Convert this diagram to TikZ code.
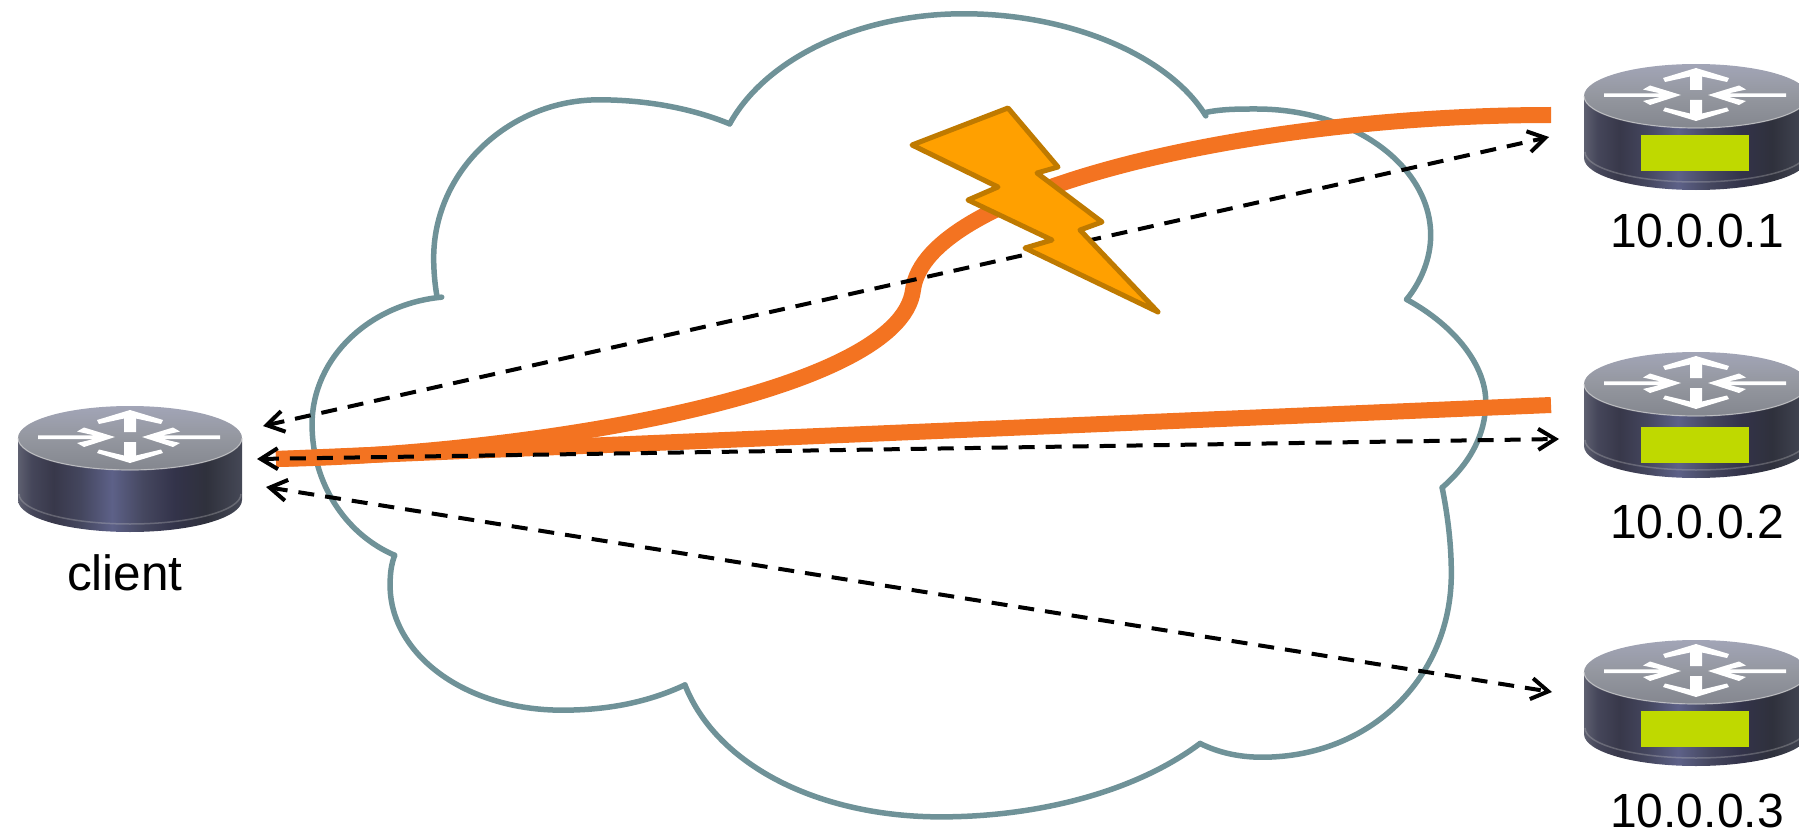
\documentclass[tikz,border=0pt]{standalone}
\usepackage{fontspec}
\setmainfont{Liberation Sans}
\usetikzlibrary{arrows.meta}
\definecolor{cloudc}{HTML}{6F9298}
\definecolor{orangeline}{HTML}{F37321}
\definecolor{boltfill}{HTML}{FFA000}
\definecolor{boltline}{HTML}{BF7A00}
\definecolor{lime}{HTML}{BFD900}
\definecolor{rsa}{HTML}{5E6070}
\definecolor{rsb}{HTML}{45465A}
\definecolor{rsc}{HTML}{38384A}
\definecolor{rsd}{HTML}{44465E}
\definecolor{rse}{HTML}{5D6188}
\definecolor{rsf}{HTML}{45475F}
\definecolor{rsg}{HTML}{33334A}
\definecolor{rsh}{HTML}{2F313C}
\definecolor{rsi}{HTML}{454856}
\definecolor{rta}{HTML}{84878F}
\definecolor{rtb}{HTML}{94979F}
\definecolor{rtc}{HTML}{A2A5B7}
\pgfdeclarehorizontalshading{routerside}{100bp}{
 color(0bp)=(rsa);
 color(25bp)=(rsa);
 color(28bp)=(rsb);
 color(33bp)=(rsc);
 color(39bp)=(rsd);
 color(46bp)=(rse);
 color(53bp)=(rsf);
 color(60bp)=(rsg);
 color(67bp)=(rsh);
 color(75bp)=(rsi);
 color(100bp)=(rsi)}
\pgfdeclareverticalshading{routertop}{100bp}{
 color(0bp)=(rta);
 color(25bp)=(rta);
 color(50bp)=(rtb);
 color(75bp)=(rtc);
 color(100bp)=(rtc)}
\tikzset{
 cloudarc/.style={draw=cloudc,line width=5.5pt,line cap=round},
 fibre/.style={draw=orangeline,line width=16pt},
 probe/.style={draw=black,line width=4pt,dash pattern=on 16pt off 11pt,
   {Straight Barb[length=17pt,width=21pt,line width=4pt]}-{Straight Barb[length=17pt,width=21pt,line width=4pt]}},
 bolt/.style={draw=boltline,fill=boltfill,line width=5pt,line join=round},
 routerlabel/.style={font=\fontsize{48pt}{48pt}\selectfont,text=black,inner sep=0pt,anchor=base},
 clientlabelstyle/.style={font=\fontsize{49.5pt}{49.5pt}\selectfont,text=black,inner sep=0pt,anchor=base},
 limebox/.style={fill=lime,draw=none,minimum width=108pt,minimum height=36pt,inner sep=0pt},
 routermark/.style={fill=white,draw=none}
}
\newcommand{\routerbody}[2]{%
 \begin{scope}[shift={(#1,#2)}]
  \shade[shading=routerside]
    (0,32) -- (0,94) arc[start angle=180,end angle=0,x radius=112,y radius=32] -- (224,32)
    arc[start angle=0,end angle=180,x radius=112,y radius=32] -- cycle;
  \draw[color=white!55!gray,opacity=.3,line width=1.5pt]
    (1,88) arc[start angle=180,end angle=0,x radius=111,y radius=30];
  \shade[shading=routertop]
    (112,32) ellipse[x radius=112,y radius=32];
  \draw[color=white!70!gray,opacity=.6,line width=1.2pt]
    (0,32) arc[start angle=180,end angle=0,x radius=112,y radius=32];
  \fill[routermark] (20,29.3) -- (76,29.3) -- (59,25.5) -- (66,21.5) -- (97,31) -- (66,41) -- (59,37) -- (76,33) -- (20,33) -- cycle;
  \fill[routermark] (202,29.3) -- (145,29.3) -- (162,25.5) -- (155,21.5) -- (124,31) -- (155,41) -- (162,37) -- (145,33) -- (202,33) -- cycle;
  \fill[routermark] (112,4) -- (145,14) -- (143,18) -- (118,12.5) -- (118,26) -- (106,26) -- (106,12.5) -- (81,18) -- (79,14) -- cycle;
  \fill[routermark] (112,57) -- (145,47) -- (143,43.5) -- (118,49.5) -- (118,36) -- (106,36) -- (106,49.5) -- (81,43.5) -- (79,47) -- cycle;
 \end{scope}}
\begin{document}
\begin{tikzpicture}[x=1pt,y=-1pt]
\useasboundingbox (0,0) rectangle (1799,832);
\clip (0,0) rectangle (1799,832);
% cloud
\begin{scope}[x=1.1473pt,y=-1.1473pt]
 \draw[cloudarc] (344,484) .. controls (300,465) and (272,420) .. (272,370) .. controls (272,312) and (322,265) .. (385,259);
 \draw[cloudarc] (381,259) .. controls (379,248) and (378,236) .. (378,225) .. controls (378,148) and (445,87) .. (522,87) .. controls (562,87) and (602,94) .. (636,108);
 \draw[cloudarc] (636,108) .. controls (668,50) and (750,12) .. (840,12) .. controls (935,12) and (1020,50) .. (1051,101);
 \draw[cloudarc] (1051,98) .. controls (1065,95) and (1080,95) .. (1095,95) .. controls (1180,95) and (1247,145) .. (1247,205) .. controls (1247,225) and (1239,245) .. (1226,261);
 \draw[cloudarc] (1226,261) .. controls (1270,285) and (1295,320) .. (1295,350) .. controls (1295,380) and (1280,405) .. (1257,425);
 \draw[cloudarc] (1257,425) .. controls (1262,450) and (1265,475) .. (1265,500) .. controls (1265,590) and (1195,660) .. (1100,660) .. controls (1080,660) and (1062,656) .. (1046,648);
 \draw[cloudarc] (1046,648) .. controls (990,690) and (905,712) .. (820,712) .. controls (715,712) and (625,668) .. (597,597);
 \draw[cloudarc] (597,597) .. controls (565,612) and (530,619) .. (490,619) .. controls (405,619) and (340,570) .. (340,510) .. controls (340,500) and (341,492) .. (344,484);
\end{scope}
% named ends
\coordinate (fibreclient) at (276,459);
\coordinate (fibrebend) at (913,290);
\coordinate (fibreone) at (1551,115);
\coordinate (fibretwo) at (1551,405);
\coordinate (probeclientone) at (263,426);
\coordinate (probeclienttwo) at (257,459);
\coordinate (probeclientthree) at (266,487);
\coordinate (probeone) at (1549,137);
\coordinate (probetwo) at (1559,439);
\coordinate (probethree) at (1552,692);
% fibres
\draw[fibre] (fibreclient) .. controls (520,455) and (900,395) .. (fibrebend)
  .. controls (925,190) and (1250,115) .. (fibreone);
\draw[fibre] (fibreclient) -- (fibretwo);
% probes
\draw[probe] (probeclientone) -- (probeone);
\draw[probe] (probeclienttwo) -- (probetwo);
\draw[probe] (probeclientthree) -- (probethree);
% bolt
\draw[bolt] (1008,108) -- (1058,167) -- (1037,173) -- (1102,222) -- (1080,230) -- (1158,312)
  -- (1025,248) -- (1052,240) -- (968,200) -- (998,187) -- (912,145) -- cycle;
% routers
\routerbody{18}{406}
\routerbody{1584}{64}
\routerbody{1584}{352}
\routerbody{1584}{640}
\node[limebox] (limeone) at (1695,153) {};
\node[limebox] (limetwo) at (1695,445) {};
\node[limebox] (limethree) at (1695,729) {};
% labels
\node[clientlabelstyle] (clientlabel) at (125,590) {client};
\node[routerlabel] (labelone) at (1697,247) {10.0.0.1};
\node[routerlabel] (labeltwo) at (1697,538) {10.0.0.2};
\node[routerlabel] (labelthree) at (1697,827) {10.0.0.3};
\end{tikzpicture}
\end{document}
